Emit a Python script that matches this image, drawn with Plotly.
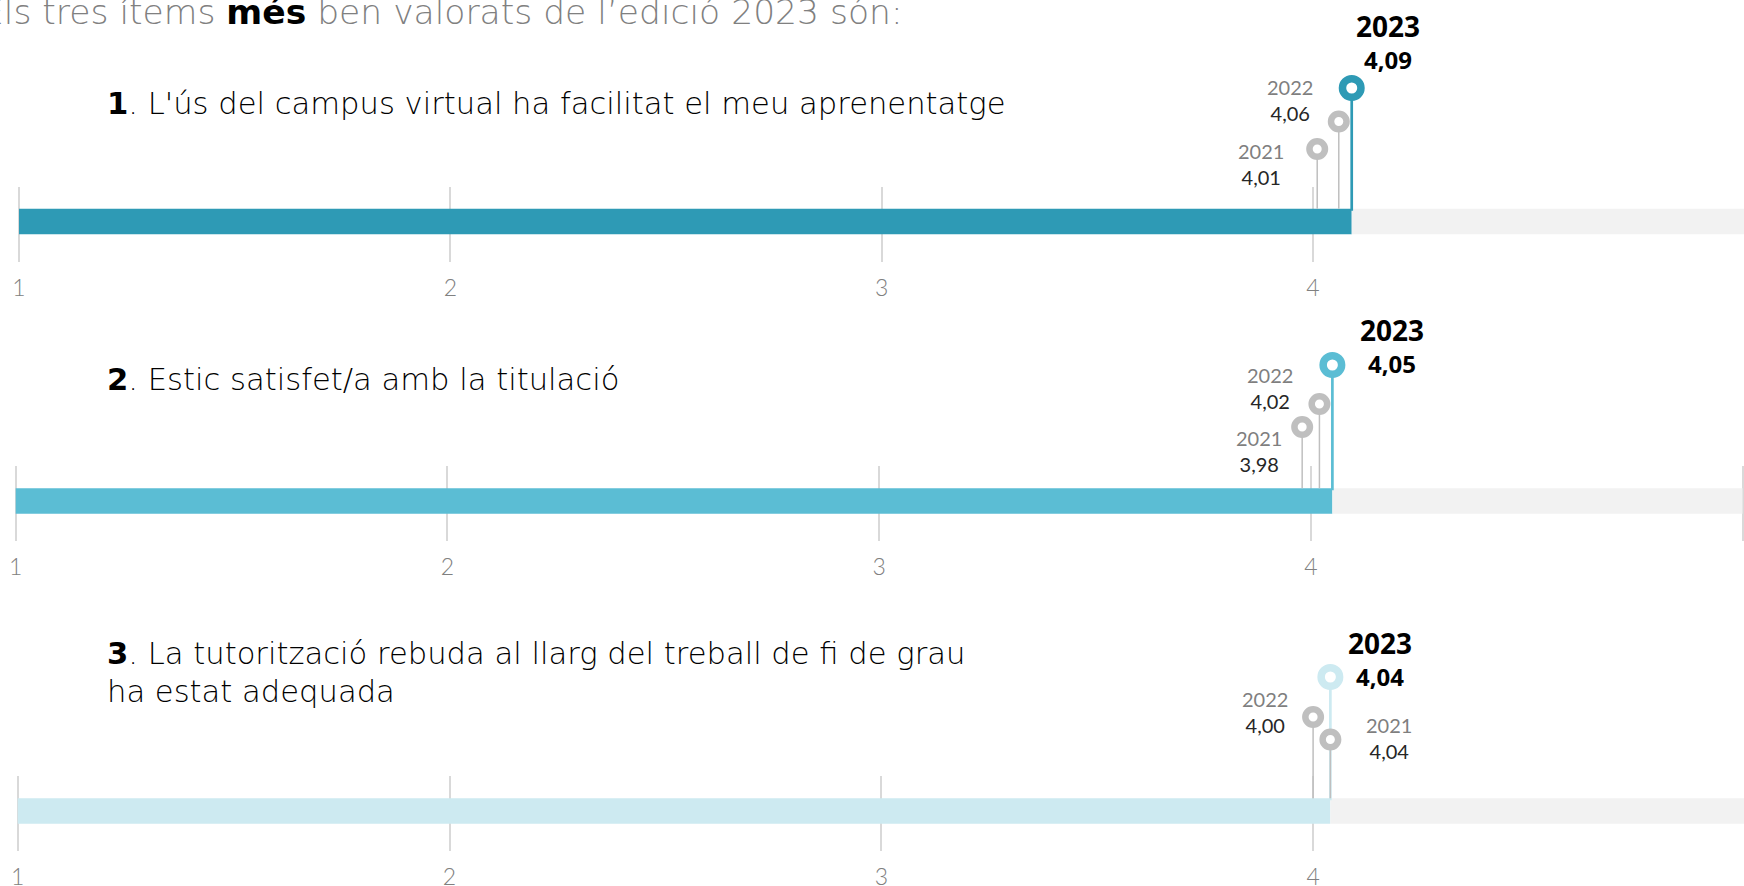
import plotly.graph_objects as go

# ---------------- data ----------------
title_text = "Els tres ítems <b><span style='color:#000000'>més</span></b> ben valorats de l’edició 2023 són:"
item_labels = [
    "<b>1</b>. L'ús del campus virtual ha facilitat el meu aprenentatge",
    "<b>2</b>. Estic satisfet/a amb la titulació",
    "<b>3</b>. La tutorització rebuda al llarg del treball de fi de grau<br>ha estat adequada",
]
years = ["2021", "2022", "2023"]
values_2021 = [4.01, 3.98, 4.04]
values_2022 = [4.06, 4.02, 4.00]
values_2023 = [4.09, 4.05, 4.04]
tick_vals = [1, 2, 3, 4, 5]
tick_labels = ["1", "2", "3", "4", "5"]
scale_max = 5

# ---------------- styles / layout (pixels from top) ----------------
W, H = 1744, 886
panel_colors = ["#2E9AB5", "#5BBDD4", "#CDEAF1"]
rest_color = "#F2F2F2"
grey_marker = "#BFBFBF"
grid_color = "#D9D9D9"
axis_origin_px = [19.0, 15.7, 17.7]      # pixel of value 1
axis_unit_px = [431.3, 431.7, 431.8]     # pixels per unit
bar_center = [221.5, 501.0, 811.0]
bar_h = 25.5
grid_top = [186, 465, 775]
grid_len = 75
tick_standoff = [6, 6, 6]
# marker heights (2021, 2022, 2023) per panel
marker_levels = [[149, 121.5, 88], [427, 404, 365], [739.5, 717, 677]]
label_first_line_y = [103, 379, 653]
label_line_gap = 38
# label offsets relative to marker: (dx, dy)
off_2021 = [(-56, 14.5), (-43.5, 24), (59, -2)]
off_2022 = [(-49, -22), (-49, -16), (-48, -5)]
off_2023_year = [(36, -62), (60, -35), (50, -34)]
off_2023_val = [(36, -29), (60, -1.5), (50, -1)]

MAIN = "DejaVu Sans"
LIGHT = "Lato"
BOLD = "Noto Sans"

fig = go.Figure()
annotations = []
layout_axes = {}

def fmt(v):
    return f"{v:.2f}".replace(".", ",")

for i in range(3):
    ax = "x" if i == 0 else f"x{i+1}"
    axname = "xaxis" if i == 0 else f"xaxis{i+1}"
    x0 = 1 - axis_origin_px[i] / axis_unit_px[i]
    x1 = x0 + W / axis_unit_px[i]
    layout_axes[axname] = dict(
        range=[x0, x1], domain=[0, 1], anchor="free",
        position=1 - grid_top[i] / H, automargin=False,
        tickmode="array", tickvals=tick_vals, ticktext=tick_labels,
        ticks="outside", ticklen=grid_len, tickwidth=2, tickcolor=grid_color,
        ticklabelstandoff=tick_standoff[i],
        showline=False, showgrid=False, zeroline=False, layer="below traces",
        tickfont=dict(family=LIGHT, size=23, color="#808080", weight=300),
        fixedrange=True,
    )
    v21, v22, v23 = values_2021[i], values_2022[i], values_2023[i]
    c = panel_colors[i]
    # bars
    fig.add_trace(go.Bar(orientation="h", x=[v23 - 1], base=[1], y=[bar_center[i]],
                         width=[bar_h], marker=dict(color=c, line=dict(width=0)),
                         xaxis=ax, yaxis="y", hoverinfo="skip", showlegend=False))
    fig.add_trace(go.Bar(orientation="h", x=[scale_max - v23], base=[v23], y=[bar_center[i]],
                         width=[bar_h], marker=dict(color=rest_color, line=dict(width=0)),
                         xaxis=ax, yaxis="y", hoverinfo="skip", showlegend=False))
    bar_top = bar_center[i] - bar_h / 2
    lv = marker_levels[i]
    # stems
    fig.add_trace(go.Scatter(x=[v23, v23], y=[lv[2], bar_top + 2], mode="lines",
                             line=dict(color=c, width=2.7), xaxis=ax, yaxis="y",
                             hoverinfo="skip", showlegend=False))
    fig.add_trace(go.Scatter(x=[v21, v21, None, v22, v22], y=[lv[0], bar_top, None, lv[1], bar_top],
                             mode="lines", line=dict(color=grey_marker, width=1.5),
                             xaxis=ax, yaxis="y", hoverinfo="skip", showlegend=False))
    # markers
    fig.add_trace(go.Scatter(x=[v21, v22], y=[lv[0], lv[1]], mode="markers",
                             marker=dict(symbol="circle", size=15.5, color="white",
                                         line=dict(color=grey_marker, width=6.5)),
                             xaxis=ax, yaxis="y", hoverinfo="skip", showlegend=False))
    fig.add_trace(go.Scatter(x=[v23], y=[lv[2]], mode="markers",
                             marker=dict(symbol="circle", size=18.5, color="white",
                                         line=dict(color=c, width=7.5)),
                             xaxis=ax, yaxis="y", hoverinfo="skip", showlegend=False))
    # labels near markers
    for (v, yr, lvl, off) in [(v21, years[0], lv[0], off_2021[i]), (v22, years[1], lv[1], off_2022[i])]:
        annotations.append(dict(
            xref=ax, yref="y", x=v, y=lvl, xshift=off[0], yshift=-off[1],
            text=f"<span style='color:#7F7F7F'>{yr}</span><br>{fmt(v)}",
            showarrow=False, align="center", xanchor="center", yanchor="middle",
            font=dict(family=LIGHT, size=20, color="#262626")))
    annotations.append(dict(
        xref=ax, yref="y", x=v23, y=lv[2], xshift=off_2023_year[i][0], yshift=-off_2023_year[i][1],
        text=f"<b>{years[2]}</b>", showarrow=False, xanchor="center", yanchor="middle",
        font=dict(family=BOLD, size=28, color="#000000")))
    annotations.append(dict(
        xref=ax, yref="y", x=v23, y=lv[2], xshift=off_2023_val[i][0], yshift=-off_2023_val[i][1],
        text=f"<b>{fmt(v23)}</b>", showarrow=False, xanchor="center", yanchor="middle",
        font=dict(family=BOLD, size=24, color="#000000")))
    # item label (one annotation per line)
    for k, line in enumerate(item_labels[i].split("<br>")):
        annotations.append(dict(
            xref="paper", yref="y", x=105 / W, y=label_first_line_y[i] + k * label_line_gap,
            text=line, showarrow=False, xanchor="left", yanchor="middle", align="left",
            font=dict(family=MAIN, size=30.6, color="#000000", weight=300)))

# title
annotations.append(dict(
    xref="paper", yref="y", x=-20 / W, y=12, text=title_text, showarrow=False,
    xanchor="left", yanchor="middle", align="left",
    font=dict(family=MAIN, size=34.5, color="#808080", weight=300)))

fig.update_layout(
    width=W, height=H, margin=dict(l=0, r=0, t=0, b=0, pad=0), autosize=False,
    paper_bgcolor="white", plot_bgcolor="rgba(0,0,0,0)",
    barmode="overlay", showlegend=False,
    yaxis=dict(range=[H, 0], domain=[0, 1], visible=False, fixedrange=True, automargin=False),
    annotations=annotations,
    **layout_axes,
)

fig.write_html("out.html", config={"displayModeBar": False},
               post_script="document.body.style.margin='0px'; document.body.style.overflow='hidden';")
